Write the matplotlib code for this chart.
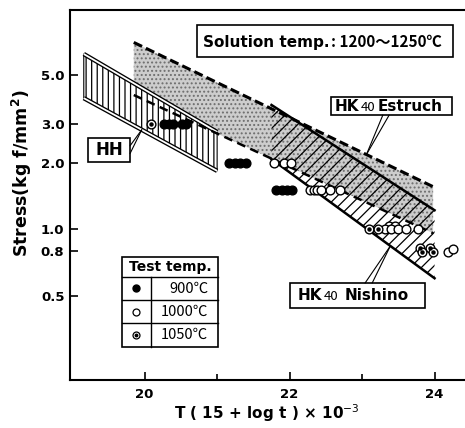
import numpy as np
import matplotlib
matplotlib.use('Agg')
import matplotlib.pyplot as plt
from matplotlib.patches import Rectangle
from matplotlib.transforms import IdentityTransform
from matplotlib.ticker import NullLocator

# scatter bands, x = T(15+log t)x1e-3, y = stress
hh_x = [19.16, 21.0]
hh_upper = [6.23, 2.76]
hh_lower = [3.93, 1.84]

estruch_x = [19.85, 23.98]
estruch_upper = [7.03, 1.56]
estruch_lower = [4.06, 0.96]

nishino_x = [21.75, 24.0]
nishino_upper = [3.66, 1.22]
nishino_lower = [2.08, 0.60]

# test results
t900_x = [20.27, 20.33, 20.39, 20.52, 20.57,
          21.17, 21.25, 21.32, 21.40,
          21.81, 21.90, 21.97, 22.03]
t900_y = [3.0] * 5 + [2.0] * 4 + [1.5] * 4

t1000_x = [21.78, 21.92, 22.02,
           22.28, 22.34, 22.38, 22.44, 22.56, 22.70,
           23.37, 23.46, 23.31, 23.40, 23.49, 23.61, 23.77,
           24.19, 24.26]
t1000_y = [2.0] * 3 + [1.5] * 6 + [1.04] * 2 + [1.0] * 5 + [0.79, 0.81]

t1050_x = [20.09, 23.10, 23.22, 23.80, 23.94, 23.82, 23.98]
t1050_y = [3.0, 1.0, 1.0, 0.82, 0.82, 0.79, 0.79]

yticks = [0.5, 0.8, 1.0, 2.0, 3.0, 5.0]
ytick_labels = ['0.5', '0.8', '1.0', '2.0', '3.0', '5.0']
legend_rows = [('900℃', 't900'), ('1000℃', 't1000'), ('1050℃', 't1050')]

plt.rcParams['font.family'] = ['DejaVu Sans', 'Noto Sans CJK JP']
plt.rcParams['hatch.linewidth'] = 0.9

fig = plt.figure(figsize=(4.65, 4.28), dpi=100)
ax = fig.add_axes([70 / 465, 48 / 428, 395 / 465, 370 / 428])
ax.set_yscale('log')
ax.set_xlim(18.97, 24.42)
ax.set_ylim(0.2075, 9.86)

# bands
ax.fill_between(estruch_x, estruch_lower, estruch_upper, facecolor='#cdcdcd',
                edgecolor='#6e6e6e', hatch='....', lw=0, zorder=1)
ax.fill_between(hh_x, hh_lower, hh_upper, facecolor='white', edgecolor='black',
                hatch='|||', lw=0.8, zorder=2)
ax.fill_between(nishino_x, nishino_lower, nishino_upper, facecolor='none',
                edgecolor='black', hatch='///', lw=0, zorder=2)

for ys in (hh_upper, hh_lower):
    ax.plot(hh_x, ys, color='black', lw=3.2, solid_capstyle='butt', zorder=3)
    ax.plot(hh_x, ys, color='white', lw=1.3, solid_capstyle='butt', zorder=3)
ax.plot(estruch_x, estruch_upper, color='black', lw=2.2, dashes=(3, 1.4), zorder=3)
ax.plot(estruch_x, estruch_lower, color='black', lw=1.8, dashes=(3.5, 2.2), zorder=3)
ax.plot(nishino_x, nishino_upper, color='black', lw=1.8, zorder=3)
ax.plot(nishino_x, nishino_lower, color='black', lw=1.8, zorder=3)

# points
ms = 6.3
ax.plot(t900_x, t900_y, 'o', ms=ms, mfc='black', mec='black', ls='none', zorder=5)
ax.plot(t1000_x, t1000_y, 'o', ms=ms, mfc='white', mec='black', mew=1, ls='none', zorder=5)
ax.plot(t1050_x, t1050_y, 'o', ms=ms, mfc='white', mec='black', mew=1, ls='none', zorder=5)
ax.plot(t1050_x, t1050_y, 'o', ms=2.2, color='black', ls='none', zorder=5)

# axes style
ax.set_yticks(yticks)
ax.set_yticklabels(ytick_labels)
ax.yaxis.set_minor_locator(NullLocator())
ax.set_xticks([20, 22, 24])
ax.set_xticks([21, 23], minor=True)
ax.tick_params(which='both', direction='in', width=1.2, labelsize=9.5)
ax.tick_params(axis='y', length=6, pad=4)
ax.tick_params(axis='x', which='major', length=6, pad=6)
ax.tick_params(axis='x', which='minor', length=4)
for lab in ax.get_xticklabels() + ax.get_yticklabels():
    lab.set_fontweight('bold')
ax.spines['right'].set_visible(False)
for s in ('top', 'left', 'bottom'):
    ax.spines[s].set_linewidth(1.5)

fig.text(0.047, 0.595, 'Stress(kg f/mm$^{\\mathbf{2}}$)', rotation=90, ha='center',
         va='center', fontsize=12.5, fontweight='bold')
fig.text(0.574, 0.035, 'T ( 15 + log t ) × 10$^{-3}$', ha='center', va='center',
         fontsize=11, fontweight='bold')

renderer = fig.canvas.get_renderer()


def put_row(x, y, pieces):
    px, py = ax.transAxes.transform((x, y))
    for s, kw, gap in pieces:
        t = ax.text(px, py, s, transform=IdentityTransform(), va='baseline',
                    ha='left', zorder=8, **kw)
        px = t.get_window_extent(renderer).x1 + gap


def box(x0, y0, x1, y1):
    ax.add_patch(Rectangle((x0, y0), x1 - x0, y1 - y0, transform=ax.transAxes,
                           facecolor='white', edgecolor='black', lw=1.2,
                           zorder=6, clip_on=False))


bold = dict(fontsize=11, fontweight='bold')
small = dict(fontsize=9.5, family=['Noto Sans CJK JP'])

# Solution temp box
box(0.322, 0.873, 0.970, 0.959)
put_row(0.337, 0.901, [('Solution temp.', bold, 1),
                       (': 1200～1250℃', dict(fontsize=11, fontweight='bold',
                                             family=['Noto Sans CJK JP']), 0)])

# HK40 Estruch
box(0.661, 0.716, 0.967, 0.766)
put_row(0.671, 0.727, [('HK', bold, 1), ('40', small, 2), ('Estruch', bold, 0)])

# HK40 Nishino
box(0.557, 0.195, 0.899, 0.262)
put_row(0.577, 0.216, [('HK', bold, 1), ('40', small, 7), ('Nishino', bold, 0)])

# HH
box(0.046, 0.590, 0.152, 0.653)
ax.text(0.099, 0.621, 'HH', transform=ax.transAxes, ha='center', va='center',
        fontsize=12, fontweight='bold', zorder=8)

# leader lines
lp = dict(arrowstyle='-', lw=0.8, color='black', shrinkA=0, shrinkB=0)
x_e = 23.06
y_e = 10 ** np.interp(x_e, estruch_x, np.log10(estruch_upper))
for fx in (0.792, 0.808):
    ax.annotate('', xy=(x_e, y_e), xytext=(fx, 0.716), textcoords='axes fraction',
                arrowprops=lp, zorder=7)
x_n = 23.39
y_n = 10 ** np.interp(x_n, nishino_x, np.log10(nishino_lower))
for fx in (0.747, 0.765):
    ax.annotate('', xy=(x_n, y_n), xytext=(fx, 0.262), textcoords='axes fraction',
                arrowprops=lp, zorder=7)
x_h = 19.96
y_h = 10 ** np.interp(x_h, hh_x, np.log10(hh_lower))
for fy in (0.633, 0.612):
    ax.annotate('', xy=(x_h, y_h), xytext=(0.152, fy), textcoords='axes fraction',
                arrowprops=lp, zorder=7)

# test temperature table
tl, tr, tdiv = 0.131, 0.375, 0.204
row_lines = [0.333, 0.279, 0.216, 0.153, 0.090]
box(tl, row_lines[-1], tr, row_lines[0])
for yy in row_lines[1:-1]:
    ax.plot([tl, tr], [yy, yy], color='black', lw=1.0, transform=ax.transAxes, zorder=7)
ax.plot([tdiv, tdiv], [row_lines[1], row_lines[-1]], color='black', lw=1.0,
        transform=ax.transAxes, zorder=7)
ax.text((tl + tr) / 2, (row_lines[0] + row_lines[1]) / 2, 'Test temp.',
        transform=ax.transAxes, ha='center', va='center', fontsize=10,
        fontweight='bold', zorder=8)
for i, (label, kind) in enumerate(legend_rows):
    yc = (row_lines[i + 1] + row_lines[i + 2]) / 2
    mx = (tl + tdiv) / 2
    if kind == 't900':
        ax.plot(mx, yc, 'o', ms=5, color='black', transform=ax.transAxes, zorder=8, clip_on=False)
    else:
        ax.plot(mx, yc, 'o', ms=5, mfc='white', mec='black', mew=0.9,
                transform=ax.transAxes, zorder=8, clip_on=False)
        if kind == 't1050':
            ax.plot(mx, yc, 'o', ms=1.8, color='black', transform=ax.transAxes,
                    zorder=9, clip_on=False)
    ax.text(tr - 0.025, yc, label, transform=ax.transAxes, ha='right', va='center',
            fontsize=10.5, family=['Noto Sans CJK JP'], zorder=8)

fig.savefig('out.png', dpi=100)
